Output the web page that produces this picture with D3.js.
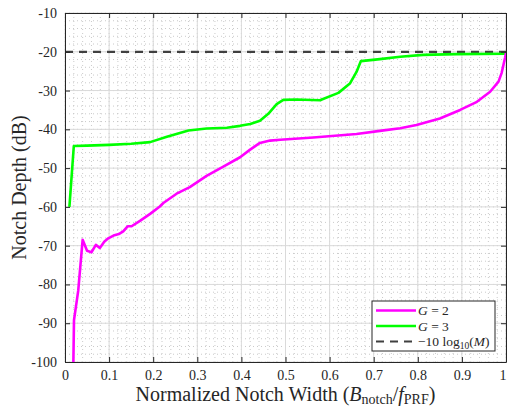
<!DOCTYPE html>
<html>
<head>
<meta charset="utf-8">
<script src="https://cdn.jsdelivr.net/npm/d3@7"></script>
<style>
  body { margin: 0; background: #fff; }
  svg { font-family: "Liberation Serif", "DejaVu Serif", serif; }
</style>
</head>
<body>
<svg id="chart" width="507" height="406"></svg>
<script>
// G = 2 curve (magenta)
const g2X = [0.019, 0.0204, 0.030, 0.040, 0.050, 0.060, 0.070, 0.079, 0.089, 0.098, 0.110, 0.122, 0.132, 0.142, 0.151, 0.170, 0.193, 0.215, 0.223, 0.253, 0.283, 0.321, 0.359, 0.397, 0.419, 0.442, 0.465, 0.488, 0.563, 0.661, 0.714, 0.760, 0.797, 0.850, 0.896, 0.934, 0.964, 0.983, 0.990, 0.998, 1.0];
const g2Y = [-100, -89.2, -81.6, -68.5, -71.3, -71.7, -69.8, -70.6, -69.0, -68.1, -67.4, -67.0, -66.3, -65.0, -65.0, -63.6, -61.8, -59.9, -59.0, -56.6, -54.9, -52.0, -49.6, -47.2, -45.3, -43.5, -42.9, -42.7, -42.1, -41.2, -40.4, -39.7, -38.9, -37.2, -35.0, -32.9, -30.3, -27.7, -25.5, -21.5, -20.3];

// G = 3 curve (green)
const g3X = [0.010, 0.020, 0.050, 0.100, 0.150, 0.193, 0.231, 0.280, 0.321, 0.367, 0.397, 0.420, 0.442, 0.461, 0.480, 0.495, 0.525, 0.578, 0.620, 0.646, 0.661, 0.671, 0.714, 0.760, 0.812, 0.888, 1.0];
const g3Y = [-60, -44.3, -44.2, -44.0, -43.7, -43.3, -41.9, -40.3, -39.8, -39.6, -39.1, -38.6, -37.8, -36.0, -33.5, -32.4, -32.3, -32.5, -30.6, -28.2, -25.2, -22.4, -21.9, -21.3, -20.8, -20.6, -20.5];

// reference level -10 log10(M)
const refLevel = -20;

const xTicks = [0, 0.1, 0.2, 0.3, 0.4, 0.5, 0.6, 0.7, 0.8, 0.9, 1];
const yTicks = [-100, -90, -80, -70, -60, -50, -40, -30, -20, -10];
const xMinor = d3.range(0, 1.0001, 0.02);
const yMinor = d3.range(-100, -9.99, 2);

const margin = {left: 65, top: 13, right: 1, bottom: 44};
const W = 507, H = 406;
const svg = d3.select('#chart');

const x = d3.scaleLinear().domain([0, 1]).range([margin.left, W - margin.right]);
const y = d3.scaleLinear().domain([-100, -10]).range([H - margin.bottom, margin.top]);

const axisColor = '#262626';

svg.append('defs').append('clipPath').attr('id', 'clip')
    .append('rect')
    .attr('x', x(0)).attr('y', y(-10))
    .attr('width', x(1) - x(0)).attr('height', y(-100) - y(-10));

// minor grid
const minor = svg.append('g');
minor.selectAll('line.mx').data(xMinor).join('line')
    .attr('x1', d => x(d)).attr('x2', d => x(d))
    .attr('y1', y(-100)).attr('y2', y(-10))
    .style('stroke', '#bdbdbd').style('stroke-width', 0.8).style('stroke-dasharray', '1,3');
minor.selectAll('line.my').data(yMinor).join('line')
    .attr('y1', d => y(d)).attr('y2', d => y(d))
    .attr('x1', x(0)).attr('x2', x(1))
    .style('stroke', '#bdbdbd').style('stroke-width', 0.8).style('stroke-dasharray', '1,3');

// major grid
const grid = svg.append('g');
grid.selectAll('line.gx').data(xTicks).join('line')
    .attr('x1', d => x(d)).attr('x2', d => x(d))
    .attr('y1', y(-100)).attr('y2', y(-10))
    .style('stroke', '#dadada').style('stroke-width', 1);
grid.selectAll('line.gy').data(yTicks).join('line')
    .attr('y1', d => y(d)).attr('y2', d => y(d))
    .attr('x1', x(0)).attr('x2', x(1))
    .style('stroke', '#dadada').style('stroke-width', 1);

// series
const line = d3.line().x(d => x(d[0])).y(d => y(d[1]));
const plot = svg.append('g').attr('clip-path', 'url(#clip)');

plot.append('path')
    .datum([[0, refLevel], [1, refLevel]])
    .attr('d', line)
    .style('fill', 'none').style('stroke', '#404040')
    .style('stroke-width', 2.2).style('stroke-dasharray', '8,6');

plot.append('path')
    .datum(d3.zip(g3X, g3Y))
    .attr('d', line)
    .style('fill', 'none').style('stroke', '#00ff00')
    .style('stroke-width', 2.6).style('stroke-linejoin', 'round');

plot.append('path')
    .datum(d3.zip(g2X, g2Y))
    .attr('d', line)
    .style('fill', 'none').style('stroke', '#ff00ff')
    .style('stroke-width', 2.6).style('stroke-linejoin', 'round');

// axes (ticks inside, box on)
const xAxis = svg.append('g').attr('transform', `translate(0,${y(-100)})`)
    .call(d3.axisBottom(x).tickValues(xTicks).tickSizeInner(-5).tickSizeOuter(0).tickPadding(8).tickFormat(d => d === 0 || d === 1 ? d : d.toFixed(1)));
const xTop = svg.append('g').attr('transform', `translate(0,${y(-10)})`)
    .call(d3.axisTop(x).tickValues(xTicks).tickSizeInner(-5).tickSizeOuter(0).tickFormat(''));
const yAxis = svg.append('g').attr('transform', `translate(${x(0)},0)`)
    .call(d3.axisLeft(y).tickValues(yTicks).tickSizeInner(-5).tickSizeOuter(0).tickPadding(8).tickFormat(d => String(d)));
const yRight = svg.append('g').attr('transform', `translate(${x(1)},0)`)
    .call(d3.axisRight(y).tickValues(yTicks).tickSizeInner(-5).tickSizeOuter(0).tickFormat(''));

[xAxis, xTop, yAxis, yRight].forEach(g => {
    g.select('.domain').style('stroke', axisColor).style('stroke-width', 1);
    g.selectAll('.tick line').style('stroke', axisColor);
    g.selectAll('text').style('font-family', '"Liberation Serif", serif')
        .style('font-size', '14px').style('fill', axisColor);
});
// keep the last x label inside the page
xAxis.selectAll('.tick text').filter(d => d === 1).attr('text-anchor', 'end').attr('dx', 0);

// axis titles
const xl = svg.append('text')
    .attr('x', (x(0) + x(1)) / 2).attr('y', 401)
    .attr('text-anchor', 'middle')
    .style('font-size', '20px').style('fill', axisColor);
xl.append('tspan').text('Normalized Notch Width (');
xl.append('tspan').style('font-style', 'italic').text('B');
xl.append('tspan').attr('dy', 2.5).style('font-size', '14px').text('notch');
xl.append('tspan').attr('dy', -2.5).text('/');
xl.append('tspan').style('font-style', 'italic').text('f');
xl.append('tspan').attr('dy', 2.5).style('font-size', '14px').text('PRF');
xl.append('tspan').attr('dy', -2.5).text(')');

svg.append('text')
    .attr('transform', `translate(26,${(y(-10) + y(-100)) / 2}) rotate(-90)`)
    .attr('text-anchor', 'middle')
    .style('font-size', '20px').style('fill', axisColor)
    .text('Notch Depth (dB)');

// legend
const legendItems = [
    {color: '#ff00ff', dash: null},
    {color: '#00ff00', dash: null},
    {color: '#404040', dash: '8,6'}
];
const lg = svg.append('g').attr('transform', 'translate(372,301)');
lg.append('rect').attr('width', 123).attr('height', 50)
    .style('fill', '#fff').style('stroke', axisColor).style('stroke-width', 1);
legendItems.forEach((it, i) => {
    const cy = 9.5 + i * 15.5;
    lg.append('line').attr('x1', 4).attr('x2', 44).attr('y1', cy).attr('y2', cy)
        .style('stroke', it.color).style('stroke-width', it.dash ? 2.2 : 2.6)
        .style('stroke-dasharray', it.dash);
});
const lt = (i) => lg.append('text').attr('x', 46).attr('y', 9.5 + i * 15.5 + 4.5)
    .style('font-size', '13.5px').style('fill', axisColor);
let t = lt(0);
t.append('tspan').style('font-style', 'italic').text('G');
t.append('tspan').text(' = 2');
t = lt(1);
t.append('tspan').style('font-style', 'italic').text('G');
t.append('tspan').text(' = 3');
t = lt(2);
t.append('tspan').text('\u221210 log');
t.append('tspan').attr('dy', 3).style('font-size', '9.5px').text('10');
t.append('tspan').attr('dy', -3).text('(');
t.append('tspan').style('font-style', 'italic').text('M');
t.append('tspan').text(')');
</script>
</body>
</html>
